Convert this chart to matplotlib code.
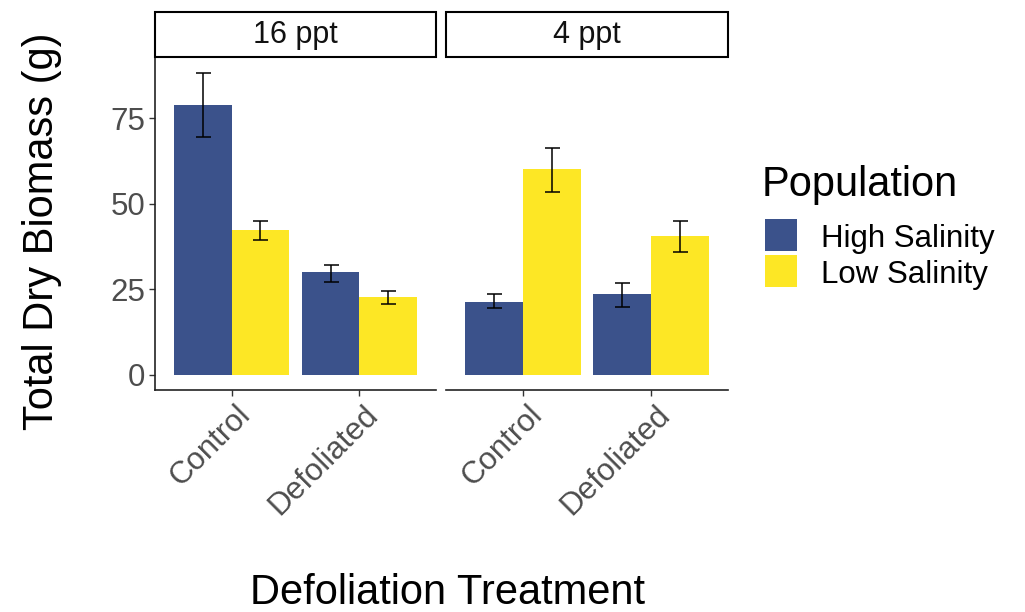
import matplotlib
matplotlib.use("Agg")
import matplotlib.pyplot as plt
from matplotlib.patches import Rectangle
from matplotlib.transforms import ScaledTranslation
import numpy as np

plt.rcParams['font.family'] = ['Liberation Sans', 'DejaVu Sans']

# ---- data ----
facets = ["16 ppt", "4 ppt"]
treatments = ["Control", "Defoliated"]
populations = ["High Salinity", "Low Salinity"]
colors = ["#3B528B", "#FDE725"]

# means and error-bar limits per facet / population, in treatment order
high_16 = [78.8, 30.1]
low_16 = [42.3, 22.8]
high_4 = [21.4, 23.6]
low_4 = [60.2, 40.5]
high_16_lo = [69.5, 27.1]
high_16_hi = [88.3, 32.2]
low_16_lo = [39.5, 20.8]
low_16_hi = [44.9, 24.5]
high_4_lo = [19.4, 19.9]
high_4_hi = [23.5, 26.8]
low_4_lo = [53.6, 35.8]
low_4_hi = [66.3, 45.1]

yticks = [0, 25, 50, 75]

means = [[high_16, low_16], [high_4, low_4]]
lows = [[high_16_lo, low_16_lo], [high_4_lo, low_4_lo]]
highs = [[high_16_hi, low_16_hi], [high_4_hi, low_4_hi]]

W, H = 1025, 612
fig = plt.figure(figsize=(W / 100, H / 100), dpi=100)

def fx(px):
    return px / W

def fy(py):
    return 1 - py / H

panel_left = [155, 446]
panel_right = [436, 728]
panel_top, panel_bot = 58, 390
strip_top, strip_bot = 12, 57

tick_color = "#4D4D4D"
tick_fs = 22.5
bar_w = 0.45

for fi, facet in enumerate(facets):
    ax = fig.add_axes([fx(panel_left[fi]), fy(panel_bot),
                       fx(panel_right[fi] - panel_left[fi]),
                       (panel_bot - panel_top) / H])
    x = np.arange(1, len(treatments) + 1)
    for pi in range(2):
        xs = x + (pi - 0.5) * bar_w
        m = np.array(means[fi][pi])
        lo = np.array(lows[fi][pi])
        hi = np.array(highs[fi][pi])
        ax.bar(xs, m, width=bar_w, color=colors[pi], edgecolor='none', zorder=2)
        ax.errorbar(xs, m, yerr=[m - lo, hi - m], fmt='none', ecolor='black',
                    elinewidth=1.1, capsize=5.4, capthick=1.1, zorder=3)
    ax.set_xlim(0.4, 2.6)
    ax.set_ylim(-4.45, 92.65)
    for s in ['top', 'right']:
        ax.spines[s].set_visible(False)
    ax.spines['bottom'].set_linewidth(1.2)
    ax.spines['bottom'].set_color('#222222')
    ax.set_xticks(x)
    ax.set_xticklabels([])
    ax.tick_params(axis='x', length=4, width=1.0, color='#333333')
    if fi == 0:
        ax.spines['left'].set_linewidth(1.2)
        ax.spines['left'].set_color('#222222')
        ax.set_yticks(yticks)
        ax.set_yticklabels([str(v) for v in yticks])
        ax.tick_params(axis='y', length=4, width=1.0, color='#333333',
                       labelsize=tick_fs, labelcolor=tick_color, pad=3)
    else:
        ax.spines['left'].set_visible(False)
        ax.set_yticks([])
    # rotated tick labels
    off = ScaledTranslation(0.04, -0.10, fig.dpi_scale_trans)
    for xi, lab in zip(x, treatments):
        ax.text(xi, 0, lab, transform=ax.get_xaxis_transform() + off,
                rotation=45, rotation_mode='anchor', ha='right', va='top',
                fontsize=tick_fs, color=tick_color)
    # strip
    fig.add_artist(Rectangle((fx(panel_left[fi]), fy(strip_bot)),
                             fx(panel_right[fi] - panel_left[fi]),
                             (strip_bot - strip_top) / H,
                             transform=fig.transFigure, facecolor='white',
                             edgecolor='black', linewidth=1.5))
    fig.text(fx((panel_left[fi] + panel_right[fi]) / 2), fy((strip_top + strip_bot) / 2 + 1),
             facet, ha='center', va='center', fontsize=22, color='#111111')

# axis titles
fig.text(fx(42), fy(231), "Total Dry Biomass (g)", rotation=90,
         ha='center', va='center', fontsize=30)
fig.text(fx(448), fy(604), "Defoliation Treatment", ha='center', va='baseline',
         fontsize=30)

# legend
fig.text(fx(762), fy(196), "Population", ha='left', va='baseline', fontsize=30)
key_y = [219, 255]
for pi, pop in enumerate(populations):
    fig.add_artist(Rectangle((fx(765), fy(key_y[pi] + 32)), fx(32), 32 / H,
                             transform=fig.transFigure, facecolor=colors[pi],
                             edgecolor='none'))
    fig.text(fx(821), fy(key_y[pi] + 28), pop, ha='left', va='baseline',
             fontsize=22.5)

fig.savefig("out.png", dpi=100)
